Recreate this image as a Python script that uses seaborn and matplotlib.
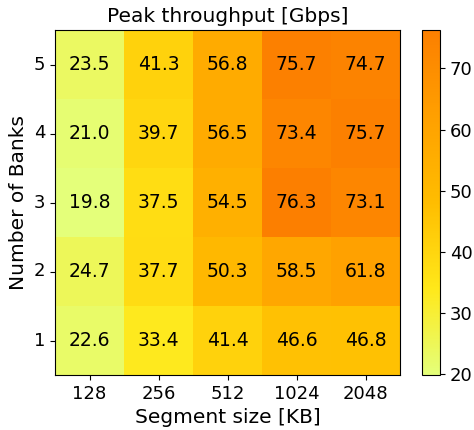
import matplotlib
matplotlib.use("Agg")
import matplotlib.pyplot as plt
import seaborn as sns
import numpy as np
import pandas as pd

segment_sizes = ["128", "256", "512", "1024", "2048"]
banks = ["5", "4", "3", "2", "1"]
bank5 = [23.5, 41.3, 56.8, 75.7, 74.7]
bank4 = [21.0, 39.7, 56.5, 73.4, 75.7]
bank3 = [19.8, 37.5, 54.5, 76.3, 73.1]
bank2 = [24.7, 37.7, 50.3, 58.5, 61.8]
bank1 = [22.6, 33.4, 41.4, 46.6, 46.8]

df = pd.DataFrame([bank5, bank4, bank3, bank2, bank1], index=banks, columns=segment_sizes)

plt.rcParams['font.family'] = ['DejaVu Sans']
fig = plt.figure(figsize=(4.74, 4.30), dpi=100)
ax = fig.add_axes([55/474, 1-375/430, 345/474, 345/430])
cax = fig.add_axes([422/474, 1-375/430, 18/474, 345/430])

sns.heatmap(df, ax=ax, cbar_ax=cax, cmap="Wistia", annot=True, fmt=".1f",
            annot_kws={"fontsize": 13.5, "color": "black"})
for s in ax.spines.values():
    s.set_visible(True)
    s.set_linewidth(0.8)
    s.set_color("black")
cb = ax.collections[0].colorbar
cb.outline.set_visible(True)
cb.outline.set_linewidth(0.8)
cb.outline.set_edgecolor("black")
cb.ax.tick_params(labelsize=13)
cb.set_ticks([20, 30, 40, 50, 60, 70])

ax.set_title("Peak throughput [Gbps]", fontsize=14.5)
ax.set_xlabel("Segment size [KB]", fontsize=14.5)
ax.set_ylabel("Number of Banks", fontsize=14.5)
ax.tick_params(axis='both', labelsize=13)
ax.set_yticklabels(banks, rotation=0)
ax.set_xticklabels(segment_sizes, rotation=0)

fig.savefig("out.png", dpi=100)
